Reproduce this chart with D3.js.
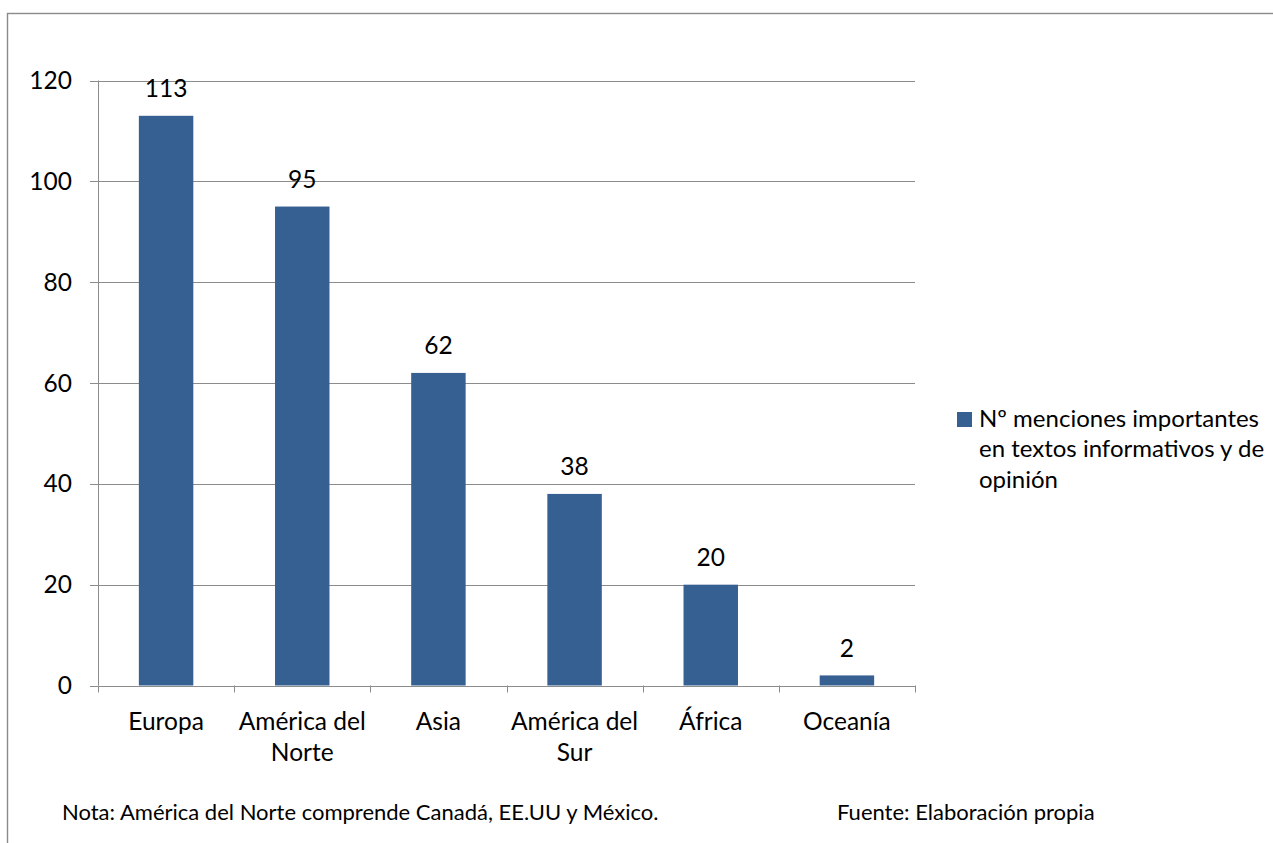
<!DOCTYPE html>
<html>
<head>
<meta charset="utf-8">
<script src="https://cdn.jsdelivr.net/npm/d3@7/dist/d3.min.js"></script>
<style>
  html, body { margin: 0; padding: 0; background: #fff; }
  svg { display: block; }
  text { font-family: Lato, "Open Sans", sans-serif; fill: #000; }
</style>
</head>
<body>
<svg id="chart" width="1273" height="843"></svg>
<script>
// ---- data ----
const categories = ["Europa", "América del Norte", "Asia", "América del Sur", "África", "Oceanía"];
const values = [113, 95, 62, 38, 20, 2];
const seriesName = "Nº menciones importantes en textos informativos y de opinión";
const yTicks = [0, 20, 40, 60, 80, 100, 120];
const noteText = "Nota: América del Norte comprende Canadá, EE.UU y México.";
const sourceText = "Fuente: Elaboración propia";

// ---- layout ----
const svg = d3.select("#chart");
const W = 1273, H = 843;
const plot = { left: 98, right: 915, top: 80.5, bottom: 685.5 };
const barColor = "#376092";
const gridColor = "#8c8c8c";
const fontSize = 24.5;
const legendFont = 24;
const noteFont = 22;

// outer frame
svg.append("rect")
  .attr("x", 7.5).attr("y", 13.5)
  .attr("width", W + 20).attr("height", H + 20)
  .attr("fill", "none").attr("stroke", "#8a8a8a").attr("stroke-width", 1.4);

const x = d3.scaleBand()
  .domain(categories)
  .range([plot.left, plot.right])
  .paddingInner(0.6)
  .paddingOuter(0.3);

const y = d3.scaleLinear()
  .domain([0, 120])
  .range([plot.bottom, plot.top]);

// gridlines
svg.append("g")
  .selectAll("line")
  .data(yTicks)
  .join("line")
  .attr("x1", plot.left - 8).attr("x2", plot.right)
  .attr("y1", d => Math.round(y(d)) + 0.5).attr("y2", d => Math.round(y(d)) + 0.5)
  .attr("stroke", gridColor).attr("stroke-width", 1);

// y axis line
svg.append("line")
  .attr("x1", plot.left + 0.5).attr("x2", plot.left + 0.5)
  .attr("y1", plot.top).attr("y2", plot.bottom)
  .attr("stroke", gridColor);

// x tick marks at category boundaries
const step = x.step();
const boundaries = d3.range(categories.length + 1).map(i => plot.left + i * step);
svg.append("g")
  .selectAll("line")
  .data(boundaries)
  .join("line")
  .attr("x1", d => Math.round(d) + 0.5).attr("x2", d => Math.round(d) + 0.5)
  .attr("y1", plot.bottom).attr("y2", plot.bottom + 7)
  .attr("stroke", gridColor);

// y tick labels
svg.append("g")
  .selectAll("text")
  .data(yTicks)
  .join("text")
  .attr("x", 72)
  .attr("y", d => y(d) + 8.6)
  .attr("text-anchor", "end")
  .attr("font-size", fontSize)
  .text(d => d);

// bars
svg.append("g")
  .selectAll("rect")
  .data(values)
  .join("rect")
  .attr("x", (d, i) => x(categories[i]))
  .attr("width", x.bandwidth())
  .attr("y", d => y(d))
  .attr("height", d => y(0) - y(d))
  .attr("fill", barColor);

// value labels
svg.append("g")
  .selectAll("text")
  .data(values)
  .join("text")
  .attr("x", (d, i) => x(categories[i]) + x.bandwidth() / 2)
  .attr("y", d => y(d) - 18.5)
  .attr("text-anchor", "middle")
  .attr("font-size", fontSize)
  .text(d => d);

// wrap helper
function wrapWords(text, maxWidth, size) {
  const tmp = svg.append("text").attr("font-size", size);
  const words = text.split(" ");
  const lines = [];
  let cur = "";
  words.forEach(w => {
    const test = cur ? cur + " " + w : w;
    tmp.text(test);
    if (tmp.node().getComputedTextLength() > maxWidth && cur) {
      lines.push(cur);
      cur = w;
    } else {
      cur = test;
    }
  });
  if (cur) lines.push(cur);
  tmp.remove();
  return lines;
}

// category labels
const lineH = 31;
categories.forEach(c => {
  const lines = wrapWords(c, step - 8, fontSize);
  const t = svg.append("text")
    .attr("text-anchor", "middle")
    .attr("font-size", fontSize);
  lines.forEach((ln, j) => {
    t.append("tspan")
      .attr("x", x(c) + x.bandwidth() / 2)
      .attr("y", plot.bottom + 44 + j * lineH)
      .text(ln);
  });
});

// legend
const legend = svg.append("g");
legend.append("rect")
  .attr("x", 957).attr("y", 412)
  .attr("width", 15).attr("height", 15)
  .attr("fill", barColor);
const legLines = wrapWords(seriesName, 293, legendFont);
const lt = legend.append("text").attr("font-size", legendFont);
legLines.forEach((ln, j) => {
  lt.append("tspan")
    .attr("x", 979)
    .attr("y", 426.5 + j * 30.5)
    .text(ln);
});

// footnotes
svg.append("text")
  .attr("x", 62).attr("y", 820)
  .attr("font-size", noteFont)
  .text(noteText);
svg.append("text")
  .attr("x", 837).attr("y", 820)
  .attr("font-size", noteFont)
  .text(sourceText);
</script>
</body>
</html>
